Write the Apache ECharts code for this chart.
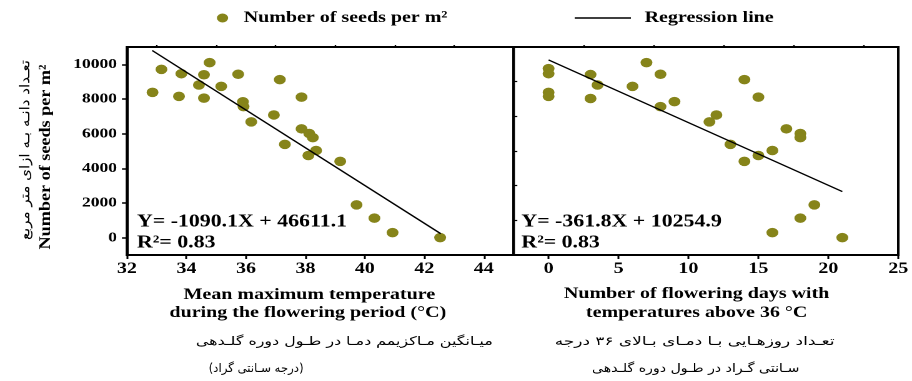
<!DOCTYPE html>
<html>
<head>
<meta charset="utf-8">
<script src="https://cdn.jsdelivr.net/npm/echarts@6/dist/echarts.min.js"></script>
<style>
html,body{margin:0;padding:0;background:#fff;overflow:hidden;width:912px;height:381px;}
#chart{width:730px;height:381px;transform:scaleX(1.249315);transform-origin:0 0;}
</style>
</head>
<body>
<div id="chart"></div>
<script>
// ---- data ----
const tempX = [32.86, 33.16, 33.75, 33.83, 34.42, 34.59, 34.59, 34.78, 35.17, 35.74, 35.90, 35.92, 36.18, 36.94, 37.14, 37.31, 37.87, 37.87, 38.13, 38.25, 38.10, 38.36, 39.17, 39.72, 40.32, 40.93, 42.53];
const tempSeeds = [8380, 9710, 8150, 9460, 8810, 9400, 8050, 10100, 8730, 9430, 7840, 7560, 6680, 7080, 9120, 5380, 8110, 6280, 6010, 5770, 4740, 5030, 4400, 1890, 1130, 290, 0];

const daysX = [0, 0, 0, 0, 3, 3, 3.5, 6, 7, 8, 8, 9, 11.5, 12, 13, 14, 14, 15, 15, 16, 16, 17, 18, 18, 18, 19, 21];
const daysSeeds = [9750, 9460, 8380, 8150, 9410, 8030, 8810, 8730, 10100, 9430, 7560, 7850, 6680, 7080, 5380, 9120, 4400, 8110, 4740, 5030, 290, 6280, 6010, 5770, 1130, 1890, 0];

// regression line end points (as drawn in the reference)
const tempRegX = [32.85, 42.55];
const tempRegY = [10800, 230];
const daysRegX = [0, 21];
const daysRegY = [10255, 2657];

// tick labels
const yTicks = [0, 2000, 4000, 6000, 8000, 10000];
const yMinorTicks = [1000, 3000, 5000, 7000, 9000];
const tempTicks = [32, 34, 36, 38, 40, 42, 44];
const tempMinorTicks = [33, 35, 37, 39, 41, 43];
const daysTicks = [0, 5, 10, 15, 20, 25];
const daysMinorTicks = [2.5, 7.5, 12.5, 17.5, 22.5];

const seriesName = 'Number of seeds per m\u00B2';
const regName = 'Regression line';
const eqTemp = 'Y= -1090.1X + 46611.1';
const eqDays = 'Y= -361.8X + 10254.9';
const r2Text = 'R\u00B2= 0.83';

const xNameTemp = ['Mean maximum temperature', 'during the flowering period (\u00B0C)'];
const xNameDays = ['Number of flowering days with', 'temperatures above 36 \u00B0C'];
const RLM = '\u200F';
const faTemp = ['میـانگین مـاکزیمم دمـا در طـول دوره گلـدهی', '(درجه سـانتی گراد)'];
const faDays = ['تعـداد روزهـایی بـا دمـای بـالای ۳۶ درجه', 'سـانتی گـراد در طـول دوره گلـدهی'];
const yNameEn = 'Number of seeds per m\u00B2';
const yNameFa = 'تعـداد دانـه بـه ازای متر مربع';

// ---- styling ----
const SERIF = 'Liberation Serif';
const OLIVE = '#86841a';
const zip = (a, b) => a.map((v, i) => [v, b[i]]);

const mctx = document.createElement('canvas').getContext('2d');
function measure(text, font) { mctx.font = font; return mctx.measureText(text).width; }

function txt(text, x, y, font, opts) {
  opts = opts || {};
  let sx = 1;
  if (opts.fit) sx = opts.fit / measure(text, font);
  return {
    type: 'text', x: x, y: y, silent: true,
    rotation: opts.rotation || 0, scaleX: sx, scaleY: 1,
    style: {
      text: text, font: font, fill: '#000',
      align: opts.align || 'center', textAlign: opts.align || 'center',
      verticalAlign: 'middle', textVerticalAlign: 'middle'
    }
  };
}

const labelStyle = (size) => ({ fontFamily: SERIF, fontWeight: 'bold', fontSize: size, color: '#000' });
const blackLine = (w) => ({ show: true, onZero: false, lineStyle: { color: '#000', width: w } });
const plain = (v) => String(v);

function xMain(grid, min, max, ticks) {
  return {
    type: 'value', gridIndex: grid, min: min, max: max,
    axisLine: blackLine(2),
    axisTick: { show: true, inside: false, length: 4, customValues: ticks, lineStyle: { color: '#000', width: 1.5 } },
    axisLabel: Object.assign({ customValues: ticks, margin: 6, formatter: plain }, labelStyle(16)),
    splitLine: { show: false }
  };
}
function xMinor(grid, min, max, ticks) {
  return {
    type: 'value', gridIndex: grid, min: min, max: max,
    axisLine: { show: false, onZero: false },
    axisTick: { show: true, length: 2, customValues: ticks, lineStyle: { color: '#000', width: 1.2 } },
    axisLabel: { show: false, customValues: ticks },
    splitLine: { show: false }
  };
}

const F_EQ = 'bold 17.5px "Liberation Serif"';
const F_XN = 'bold 16px "Liberation Serif"';
const F_FA = '12px "DejaVu Sans"';

const option = {
  backgroundColor: '#fff',
  animation: false,
  grid: [
    { left: 101.6, top: 47, width: 309.5, height: 208, show: true, borderColor: '#000', borderWidth: 2 },
    { left: 411.1, top: 47, width: 308.9, height: 208, show: true, borderColor: '#000', borderWidth: 2 }
  ],
  legend: [
    { data: [seriesName], left: 173.6, top: 10, padding: 0, itemWidth: 24, itemHeight: 9, icon: 'circle', selectedMode: false, textStyle: labelStyle(16) },
    { data: [{ name: regName, icon: 'rect', itemStyle: { color: '#000' } }], left: 460, top: 10, padding: 0, itemWidth: 45, itemHeight: 1.6, selectedMode: false, textStyle: Object.assign({ padding: [0, 0, 0, 6] }, labelStyle(16)) }
  ],
  xAxis: [
    xMain(0, 32, 45, tempTicks),
    xMain(1, -2.5, 25, daysTicks),
    xMinor(0, 32, 45, tempMinorTicks),
    xMinor(1, -2.5, 25, daysMinorTicks)
  ],
  yAxis: [
    {
      type: 'value', gridIndex: 0, min: -1000, max: 11000,
      axisLine: blackLine(2),
      axisTick: { show: true, length: 4, customValues: yTicks, lineStyle: { color: '#000', width: 1.5 } },
      axisLabel: Object.assign({ customValues: yTicks, margin: 8, formatter: plain }, labelStyle(14)),
      splitLine: { show: false }
    },
    {
      type: 'value', gridIndex: 1, min: -1000, max: 11000,
      axisLine: blackLine(2), axisTick: { show: false }, axisLabel: { show: false }, splitLine: { show: false }
    },
    {
      type: 'value', gridIndex: 0, min: -1000, max: 11000,
      axisLine: { show: false, onZero: false },
      axisTick: { show: true, length: 3, customValues: yMinorTicks, lineStyle: { color: '#000', width: 1.2 } },
      axisLabel: { show: false, customValues: yMinorTicks }, splitLine: { show: false }
    }
  ],
  series: [
    { name: seriesName, type: 'scatter', xAxisIndex: 0, yAxisIndex: 0, data: zip(tempX, tempSeeds), symbolSize: 9.5, itemStyle: { color: OLIVE, opacity: 1 }, z: 3 },
    { name: regName, type: 'line', xAxisIndex: 0, yAxisIndex: 0, data: zip(tempRegX, tempRegY), symbol: 'none', itemStyle: { color: '#000' }, lineStyle: { color: '#000', width: 1.3 }, z: 4 },
    { name: seriesName, type: 'scatter', xAxisIndex: 1, yAxisIndex: 1, data: zip(daysX, daysSeeds), symbolSize: 9.5, itemStyle: { color: OLIVE, opacity: 1 }, z: 3 },
    { name: regName, type: 'line', xAxisIndex: 1, yAxisIndex: 1, data: zip(daysRegX, daysRegY), symbol: 'none', itemStyle: { color: '#000' }, lineStyle: { color: '#000', width: 1.3 }, z: 4 }
  ],
  graphic: [
    txt(eqTemp, 109.6, 222, F_EQ, { align: 'left' }),
    txt(r2Text, 109.6, 243, F_EQ, { align: 'left' }),
    txt(eqDays, 417.3, 222, F_EQ, { align: 'left' }),
    txt(r2Text, 417.3, 243, F_EQ, { align: 'left' }),
    txt(xNameTemp[0], 247.6, 295, F_XN),
    txt(xNameTemp[1], 246.4, 313, F_XN),
    txt(xNameDays[0], 557.6, 294, F_XN),
    txt(xNameDays[1], 557.6, 313, F_XN),
    txt(RLM + faTemp[0] + RLM, 275.6, 342, F_FA, { fit: 237.6 }),
    txt(RLM + faTemp[1] + RLM, 205, 369, F_FA, { fit: 76 }),
    txt(RLM + faDays[0] + RLM, 556, 342, F_FA, { fit: 224 }),
    txt(RLM + faDays[1] + RLM, 556.8, 369, F_FA, { fit: 166 }),
    txt(yNameEn, 36.8, 157, 'bold 13px "Liberation Serif"', { rotation: Math.PI / 2, fit: 185 }),
    txt(RLM + yNameFa + RLM, 20.4, 150, '11px "DejaVu Sans"', { rotation: Math.PI / 2, fit: 180 })
  ]
};

const chart = echarts.init(document.getElementById('chart'), null, { renderer: 'canvas', devicePixelRatio: 2 });
chart.setOption(option);
</script>
</body>
</html>
